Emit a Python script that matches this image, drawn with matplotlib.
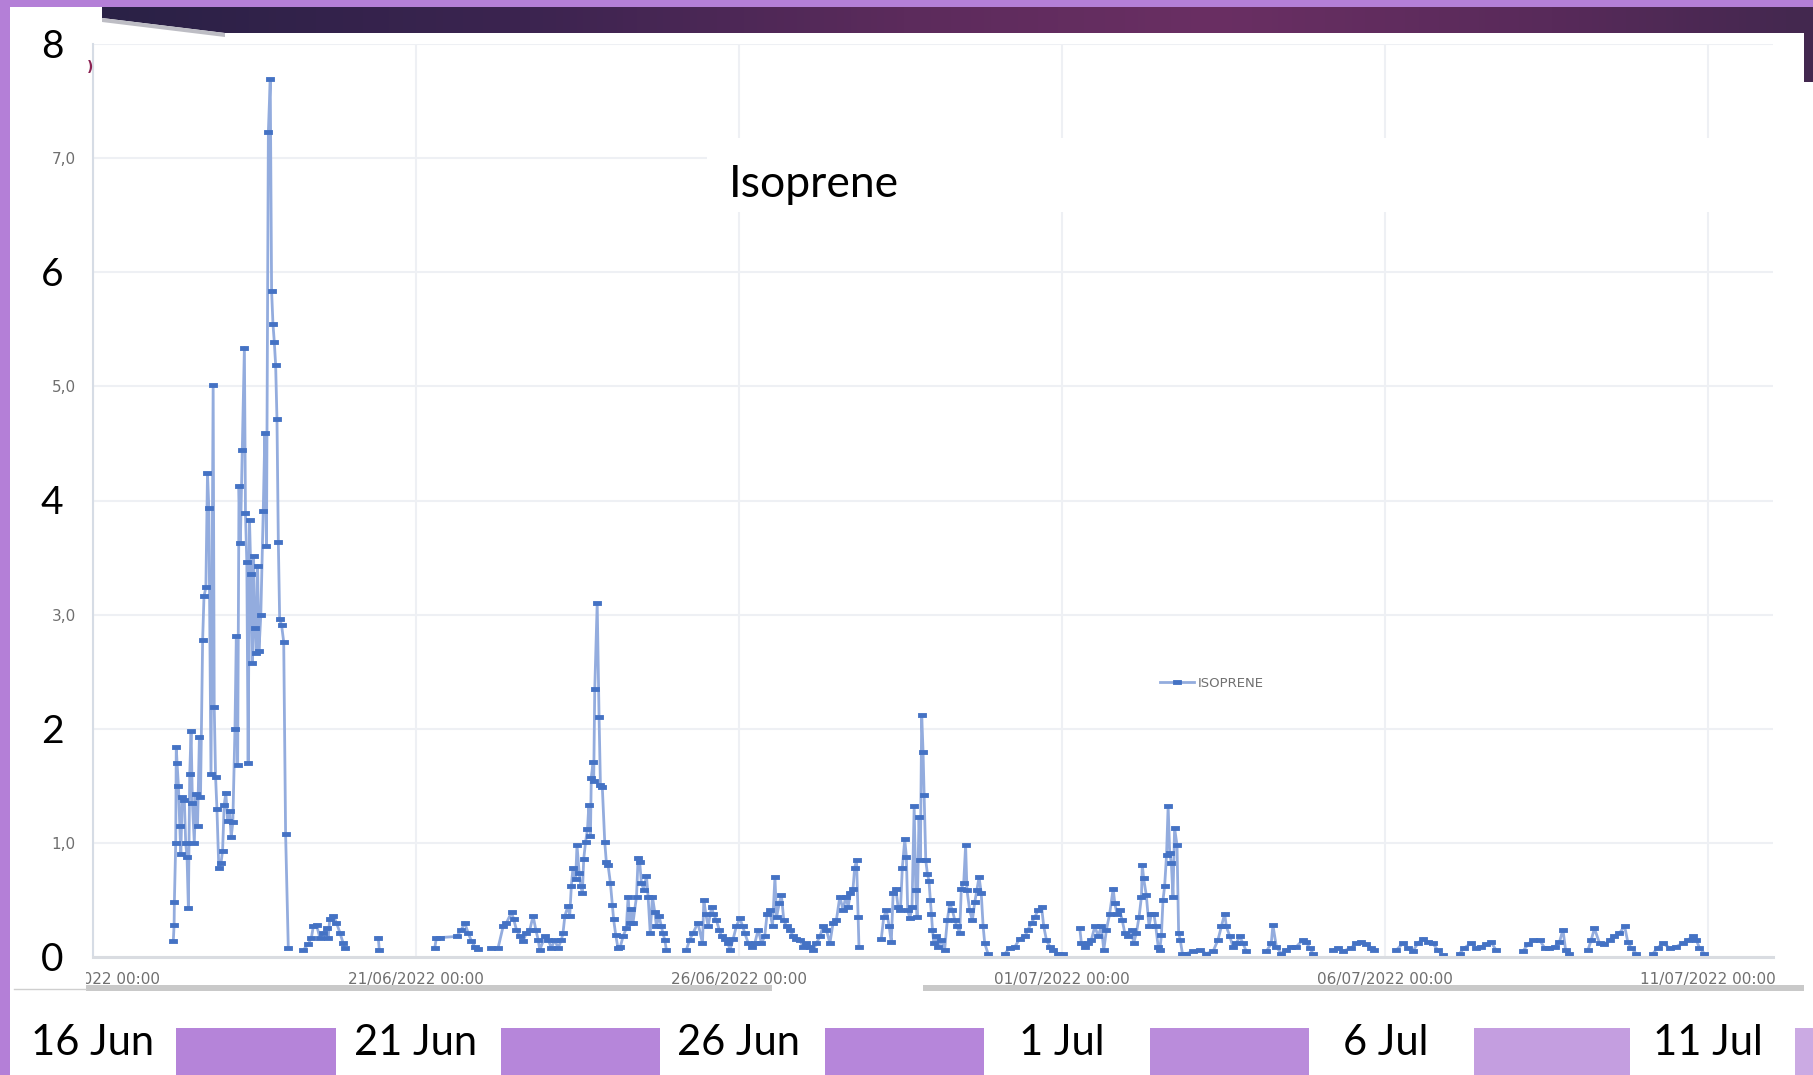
import numpy as np
import pandas as pd
import matplotlib
matplotlib.use("Agg")
import matplotlib.pyplot as plt
import matplotlib.dates as mdates
from matplotlib import transforms
from matplotlib.colors import LinearSegmentedColormap
from matplotlib.patches import Rectangle, Polygon

W, H = 1813, 1075

# isoprene readings: hours after 16/06/2022 00:00 and value, one pair of lists per run of data
h_jun17 = [30.0, 30.3, 30.4, 30.9, 31.1, 31.4, 31.9, 32.4, 32.8, 33.3,
           34.1, 34.6, 35.1, 35.6, 36.1, 36.6, 37.1, 37.8, 38.3, 39.0,
           39.7, 40.1, 40.9, 41.4, 42.1, 42.7, 43.2, 44.0, 44.8, 45.2,
           45.7, 46.2, 46.9, 47.7, 48.3, 48.9, 49.5, 50.2, 50.9, 51.5,
           52.1, 52.9, 53.4, 53.9, 54.4, 54.9, 55.6, 56.4, 56.8, 57.3,
           57.8, 58.3, 58.8, 59.3, 59.8, 60.3, 60.8, 61.3, 61.8, 62.5,
           63.4, 64.0, 64.6, 65.3, 66.0, 66.5, 67.0, 67.5, 68.0, 68.5,
           69.0, 69.5, 70.2, 71.0, 71.7, 72.7]
v_jun17 = [0.14, 0.28, 0.48, 1.0, 1.84, 1.7, 1.5, 1.15, 0.9, 1.4,
           1.38, 1.0, 0.88, 0.43, 1.6, 1.98, 1.35, 1.0, 1.43, 1.15,
           1.93, 1.4, 2.78, 3.16, 3.24, 4.24, 3.93, 1.6, 5.01, 2.19,
           1.58, 1.3, 0.78, 0.82, 0.93, 1.33, 1.44, 1.19, 1.28, 1.05,
           1.18, 2.0, 2.81, 1.68, 4.13, 3.63, 4.44, 5.34, 3.89, 3.46,
           1.7, 3.83, 3.36, 2.58, 3.51, 2.88, 2.66, 3.43, 2.68, 3.0,
           3.91, 4.59, 3.6, 7.23, 7.69, 5.84, 5.55, 5.39, 5.19, 4.71,
           3.64, 2.96, 2.91, 2.76, 1.08, 0.08]

h_jun19 = [78.2, 80.1, 81.3, 82.0, 83.2, 84.4, 85.7, 86.9, 87.5, 88.1, 89.4, 90.6, 91.9, 93.1, 93.7]
v_jun19 = [0.06, 0.11, 0.17, 0.27, 0.28, 0.17, 0.21, 0.25, 0.17, 0.33, 0.36, 0.30, 0.21, 0.12, 0.08]

h_jun20 = [106.1, 106.5]
v_jun20 = [0.17, 0.06]

h_jun21 = [127.1, 127.7, 129.0, 135.2, 137.0, 138.2, 139.5, 140.7, 142.0, 143.2]
v_jun21 = [0.08, 0.17, 0.17, 0.18, 0.24, 0.30, 0.21, 0.14, 0.09, 0.07]

h_jun22 = [148.1, 150.6, 152.5, 153.7, 155.6, 156.4, 157.4, 158.7, 159.9, 161.1,
           162.4, 163.6, 164.6, 165.5, 166.1, 167.9, 169.2, 170.4, 171.6, 172.9,
           174.1, 174.7, 175.4, 176.6, 177.2, 177.8, 178.4, 179.4, 179.9, 180.7,
           181.3, 181.9, 182.4, 183.1, 183.8, 184.3, 184.9, 185.2, 185.9, 186.1,
           186.5, 187.4, 188.1, 188.6, 189.3, 190.2, 190.8, 191.4, 192.3, 193.0,
           193.5, 194.3, 195.1, 196.0, 197.0, 198.2, 198.9, 199.5, 200.1, 200.7,
           202.0, 202.6, 203.2, 203.8, 204.7, 205.7, 206.3, 207.1, 207.9, 208.8,
           209.4, 210.4, 211.2, 211.8, 212.5, 213.1]
v_jun22 = [0.08, 0.08, 0.27, 0.30, 0.39, 0.33, 0.24, 0.18, 0.14, 0.21,
           0.24, 0.36, 0.24, 0.15, 0.06, 0.18, 0.15, 0.08, 0.15, 0.08,
           0.15, 0.21, 0.36, 0.45, 0.36, 0.62, 0.78, 0.68, 0.98, 0.74,
           0.62, 0.56, 0.86, 1.01, 1.12, 1.33, 1.06, 1.57, 1.71, 1.54,
           2.35, 3.10, 2.10, 1.51, 1.49, 1.01, 0.83, 0.81, 0.65, 0.46,
           0.33, 0.19, 0.08, 0.09, 0.18, 0.25, 0.53, 0.30, 0.42, 0.30,
           0.53, 0.87, 0.83, 0.65, 0.59, 0.71, 0.53, 0.21, 0.53, 0.39,
           0.27, 0.36, 0.27, 0.21, 0.15, 0.06]

h_jun25 = [220.5, 221.7, 223.0, 224.8, 226.5, 227.0, 227.7, 228.6, 229.9, 230.5,
           231.7, 232.7, 233.6, 234.8, 236.0, 236.7, 237.9, 239.1, 240.4, 241.4,
           242.2, 243.5, 244.7, 245.9, 247.2, 248.4, 249.6, 250.5, 251.5, 252.5,
           253.4, 254.0, 255.0, 255.8, 256.7, 257.7, 258.9, 260.2, 261.4, 262.6,
           263.9, 265.1, 266.3, 267.6, 268.8, 270.1, 271.3, 272.5, 273.8, 275.0,
           276.2, 277.5, 278.7, 279.7, 280.6, 281.4, 282.4, 283.0, 283.7, 284.3,
           284.6]
v_jun25 = [0.06, 0.15, 0.21, 0.30, 0.12, 0.50, 0.38, 0.27, 0.44, 0.38,
           0.32, 0.24, 0.18, 0.16, 0.12, 0.06, 0.16, 0.27, 0.34, 0.27,
           0.21, 0.12, 0.09, 0.12, 0.24, 0.12, 0.18, 0.38, 0.41, 0.27,
           0.70, 0.35, 0.47, 0.54, 0.32, 0.27, 0.24, 0.18, 0.16, 0.15,
           0.09, 0.12, 0.09, 0.06, 0.12, 0.18, 0.27, 0.24, 0.12, 0.30,
           0.32, 0.53, 0.41, 0.53, 0.44, 0.56, 0.60, 0.78, 0.85, 0.35,
           0.09]

h_jun28 = [292.9, 293.8, 294.8, 295.8, 296.6, 297.3, 298.3, 299.1, 300.0, 300.7,
           301.6, 302.2, 302.7, 303.5, 304.3, 305.1, 305.7, 306.2, 306.9, 307.4,
           307.9, 308.4, 308.8, 309.4, 310.0, 310.6, 311.1, 311.5, 311.9, 312.4,
           313.1, 314.0, 315.2, 316.4, 317.4, 318.3, 319.3, 320.2, 321.0, 322.0,
           322.6, 323.5, 324.2, 324.7, 325.7, 326.7, 327.6, 328.4, 329.2, 330.0,
           330.7, 331.3, 332.5]
v_jun28 = [0.16, 0.35, 0.41, 0.27, 0.13, 0.56, 0.60, 0.44, 0.41, 0.78,
           1.03, 0.88, 0.41, 0.34, 0.44, 1.32, 0.59, 0.35, 1.23, 0.85,
           2.12, 1.80, 1.42, 0.85, 0.73, 0.67, 0.50, 0.38, 0.24, 0.12,
           0.18, 0.09, 0.15, 0.06, 0.32, 0.47, 0.41, 0.32, 0.27, 0.21,
           0.60, 0.65, 0.98, 0.59, 0.41, 0.32, 0.48, 0.59, 0.70, 0.56,
           0.27, 0.12, 0.03]

h_jun30 = [338.8, 340.6, 342.5, 344.3, 346.2, 347.4, 348.7, 349.9, 351.1, 352.4, 353.2, 354.2, 355.5, 356.7, 358.5, 360.4]
v_jun30 = [0.03, 0.08, 0.09, 0.16, 0.18, 0.24, 0.30, 0.35, 0.41, 0.44, 0.27, 0.15, 0.09, 0.06, 0.03, 0.03]

h_jul01 = [366.6, 367.2, 368.4, 369.7, 370.9, 372.2, 373.4, 374.6, 375.5, 376.5,
           377.7, 379.0, 379.6, 380.4, 381.4, 382.4, 383.3, 384.5, 385.8, 386.6,
           387.6, 388.6, 389.5, 389.8, 390.3, 391.3, 392.3, 393.2, 394.1, 394.8,
           395.7, 396.3, 396.9, 397.5, 398.1, 398.8, 399.4, 400.0, 400.6, 401.2,
           401.8, 402.7, 403.3, 403.9, 404.7, 406.2, 408.6, 411.1, 413.6, 416.1,
           417.9, 419.2, 420.4, 421.0, 422.3, 423.5, 424.7, 426.0, 427.2, 428.4]
v_jul01 = [0.25, 0.12, 0.09, 0.12, 0.15, 0.27, 0.18, 0.27, 0.06, 0.24,
           0.38, 0.60, 0.47, 0.38, 0.41, 0.32, 0.21, 0.18, 0.24, 0.12,
           0.21, 0.35, 0.53, 0.81, 0.69, 0.54, 0.27, 0.38, 0.38, 0.27,
           0.09, 0.06, 0.19, 0.50, 0.62, 0.89, 1.32, 0.91, 0.82, 0.53,
           1.13, 0.98, 0.21, 0.15, 0.03, 0.03, 0.05, 0.06, 0.03, 0.05,
           0.15, 0.27, 0.38, 0.27, 0.18, 0.09, 0.12, 0.18, 0.12, 0.05]

h_jul04 = [435.9, 437.7, 438.3, 439.6, 441.4, 443.3, 445.1, 447.0, 449.4, 450.7, 451.9, 453.2]
v_jul04 = [0.05, 0.12, 0.28, 0.09, 0.03, 0.06, 0.09, 0.09, 0.15, 0.13, 0.08, 0.03]

h_jul05 = [460.6, 462.4, 464.3, 467.4, 469.2, 471.1, 473.0, 474.8, 476.0]
v_jul05 = [0.06, 0.08, 0.05, 0.08, 0.12, 0.13, 0.11, 0.08, 0.06]

h_jul06 = [484.1, 486.6, 488.4, 490.3, 492.1, 494.0, 495.8, 497.7, 499.5, 501.4]
v_jul06 = [0.06, 0.12, 0.08, 0.05, 0.12, 0.16, 0.13, 0.12, 0.06, 0.02]

h_jul07 = [507.6, 509.4, 511.9, 513.8, 515.6, 517.5, 519.3, 521.2]
v_jul07 = [0.03, 0.08, 0.12, 0.08, 0.09, 0.11, 0.13, 0.06]

h_jul08 = [531.1, 533.0, 534.8, 537.3, 539.2, 541.0, 542.9, 544.7, 546.0, 547.0, 548.4]
v_jul08 = [0.05, 0.11, 0.15, 0.15, 0.08, 0.08, 0.09, 0.13, 0.24, 0.06, 0.03]

h_jul09 = [555.3, 556.5, 557.7, 559.6, 561.4, 563.3, 565.1, 567.0, 568.9, 570.1, 571.3, 573.2]
v_jul09 = [0.06, 0.15, 0.25, 0.12, 0.11, 0.15, 0.18, 0.21, 0.27, 0.13, 0.08, 0.03]

h_jul10 = [579.4, 581.2, 583.1, 585.6, 588.0, 590.5, 592.4, 594.2, 595.5, 596.7, 598.5]
v_jul10 = [0.03, 0.08, 0.12, 0.08, 0.09, 0.12, 0.15, 0.18, 0.15, 0.08, 0.03]

segments = [(h_jun17, v_jun17), (h_jun19, v_jun19), (h_jun20, v_jun20), (h_jun21, v_jun21),
            (h_jun22, v_jun22), (h_jun25, v_jun25), (h_jun28, v_jun28), (h_jun30, v_jun30),
            (h_jul01, v_jul01), (h_jul04, v_jul04), (h_jul05, v_jul05), (h_jul06, v_jul06),
            (h_jul07, v_jul07), (h_jul08, v_jul08), (h_jul09, v_jul09), (h_jul10, v_jul10)]

tick_days = pd.date_range("2022-06-16", periods=6, freq="5D")
day_labels = ["16 Jun", "21 Jun", "26 Jun", "1 Jul", "6 Jul", "11 Jul"]
big_y = [8, 6, 4, 2, 0]
small_y = ["", "1,0", "", "3,0", "", "5,0", "", "7,0", ""]

# gaps between runs -> NaN so the line breaks like Excel
hours, values = [], []
for hh, vv in segments:
    hours += list(hh) + [hh[-1] + 0.5]
    values += list(vv) + [np.nan]
t = pd.Timestamp("2022-06-16") + pd.to_timedelta(hours, unit="h")

purple = "#B47FD7"

fig = plt.figure(figsize=(W / 100, H / 100), dpi=100)

# slide background
bg = fig.add_axes([0, 0, 1, 1], zorder=0)
grad = LinearSegmentedColormap.from_list(
    "bar", [(0.0, "#2A2146"), (0.25, "#3C2450"), (0.47, "#5C2B5C"),
            (0.65, "#6A2F63"), (0.85, "#582A5A"), (1.0, "#43284F")])
im = bg.imshow(np.linspace(0, 1, 512)[None, :], cmap=grad, aspect="auto",
               extent=(102, W, 33, 7))
clip = Polygon([(102, 7), (W, 7), (W, 33), (225, 33), (102, 18)], closed=True,
               transform=bg.transData)
im.set_clip_path(clip)
bg.add_patch(Polygon([(102, 18), (225, 33), (225, 37), (102, 22)], closed=True,
                     color="#BDBDC4", lw=0))
bg.add_patch(Rectangle((0, 0), W, 7, color=purple, lw=0))
bg.add_patch(Rectangle((0, 0), 10, H, color=purple, lw=0))
bg.add_patch(Rectangle((1804, 33), 9, 49, color="#43284F", lw=0))
bg.set_xlim(0, W)
bg.set_ylim(H, 0)
bg.axis("off")

# the chart itself
ax = fig.add_axes([92.5 / W, (H - 957) / H, (1773 - 92.5) / W, (957 - 44) / H], zorder=1)
ax.set_facecolor("none")
dash = [(-1, -0.5), (1, -0.5), (1, 0.5), (-1, 0.5), (-1, -0.5)]
ax.plot(t, values, color="#93ACDE", lw=2.0, marker=dash, ms=5.5,
        mfc="#4472C4", mec="#4472C4", mew=0.6, label="ISOPRENE")
ax.set_xlim(pd.Timestamp("2022-06-16"), pd.Timestamp("2022-07-12"))
ax.set_ylim(0, 8)
ax.set_xticks(tick_days)
ax.xaxis.set_major_formatter(mdates.DateFormatter("%d/%m/%Y %H:%M"))
ax.set_yticks(range(9))
ax.set_yticklabels(small_y)
ax.tick_params(axis="both", length=0, labelsize=11, labelcolor="#6F6F6F")
ax.tick_params(axis="x", pad=11)
ax.tick_params(axis="y", pad=12)
ax.grid(True, color="#EEF0F4", lw=1.5)
ax.set_axisbelow(True)
for s in ("top", "right"):
    ax.spines[s].set_visible(False)
ax.spines["left"].set_color("#D6DCE5")
ax.spines["left"].set_linewidth(1.5)
ax.spines["bottom"].set_color("#D9DCE1")
ax.spines["bottom"].set_linewidth(2.2)
ax.legend(loc="center left", bbox_to_anchor=(0.635, 0.300), frameon=False,
          fontsize=9.5, labelcolor="#707070", handlelength=2.6, handletextpad=0.3,
          borderpad=0, borderaxespad=0, numpoints=1)

# slide overlay: title box, big axis numbers, date strip
ov = fig.add_axes([0, 0, 1, 1], zorder=3)
ov.set_xlim(0, W)
ov.set_ylim(H, 0)
ov.axis("off")
ov.add_patch(Rectangle((707, 138), 1068, 74, color="white", lw=0))
ov.text(814, 197, "Isoprene", fontsize=32, family="Lato", ha="center", va="baseline")
ov.text(90, 67, ")", fontsize=10, color="#8B2252", ha="center", va="center", fontweight="bold")

ov.add_patch(Rectangle((12, 925), 74, 64, color="white", lw=0))
ov.plot([14, 86], [989, 989], color="#CFCFCF", lw=1)
ov.add_patch(Rectangle((86, 985), 686, 6, color="#C9C9C9", lw=0))
ov.add_patch(Rectangle((923, 985), 881, 6, color="#C9C9C9", lw=0))

ytrans = transforms.offset_copy(transforms.blended_transform_factory(ov.transData, ax.transData),
                                fig=fig, y=-14, units="dots")
for v in big_y:
    ov.text(52, v, str(v), transform=ytrans, fontsize=28, family="Lato",
            ha="center", va="baseline")

xtrans = transforms.blended_transform_factory(ax.transData, ov.transData)
for d, lab in zip(tick_days, day_labels):
    ov.text(mdates.date2num(d.to_pydatetime()), 1055, lab, transform=xtrans, fontsize=30,
            family="Lato", ha="center", va="baseline")

strip_x = [176, 501, 825, 1150, 1474, 1795]
strip_w = [160, 159, 159, 159, 156, 18]
strip_c = ["#B584D9", "#B686DA", "#B686DA", "#BA8CDB", "#C49EE0", "#CBAAE3"]
for x0, w0, c0 in zip(strip_x, strip_w, strip_c):
    ov.add_patch(Rectangle((x0, 1028), w0, H - 1028, color=c0, lw=0))

fig.savefig("out.png", dpi=100)
